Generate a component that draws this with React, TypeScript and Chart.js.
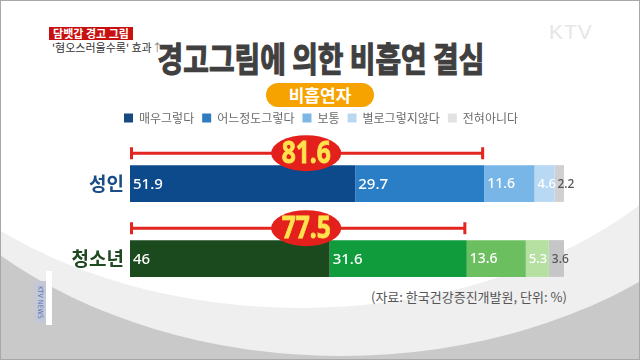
import React, { useEffect, useRef } from 'react';
import { Chart, registerables } from 'chart.js';

Chart.register(...registerables);

const CATEGORIES = ['성인', '청소년'];
const SERIES_NAMES = ['매우그렇다', '어느정도그렇다', '보통', '별로그렇지않다', '전혀아니다'];
const ADULT_VALUES = [51.9, 29.7, 11.6, 4.6, 2.2];
const YOUTH_VALUES = [46, 31.6, 13.6, 5.3, 3.6];
const TOTALS = [81.6, 77.5];
const BADGE_POSITION = 40.6;

const ADULT_COLORS = ['#0D4A8B', '#2A7EC6', '#78B6E8', '#B8D8F3', '#D0D0D2'];
const YOUTH_COLORS = ['#1B4A1F', '#109B3C', '#6CBF5E', '#B5E0A2', '#C6C6C8'];
const LEGEND_COLORS = ['#174A80', '#2F7BC0', '#7DB7E6', '#BBD8F0', '#E2E2E2'];
const LABEL_COLORS = ['#ffffff', '#ffffff', '#ffffff', '#ffffff', '#555555'];
const LABEL_SIZES = [15, 15, 14, 13, 12];
const CATEGORY_COLORS = ['#1A4C86', '#1F4A22'];

const KR = "'Noto Sans CJK KR', 'Noto Sans', sans-serif";

const overlayPlugin = {
  id: 'overlay',
  afterDatasetsDraw(chart: any) {
    const ctx = chart.ctx;
    const xs = chart.scales.x;
    ctx.save();
    chart.data.datasets.forEach((ds: any, i: number) => {
      const meta = chart.getDatasetMeta(i);
      meta.data.forEach((bar: any, j: number) => {
        const p = bar.getProps(['x', 'y', 'base', 'height'], true);
        const left = Math.min(p.x, p.base);
        ctx.font = `500 ${LABEL_SIZES[i]}px 'Noto Sans', sans-serif`;
        ctx.fillStyle = LABEL_COLORS[i];
        ctx.textAlign = 'left';
        ctx.textBaseline = 'middle';
        ctx.fillText(String(ds.data[j]), left + 3, p.y + 1);
      });
    });
    const meta0 = chart.getDatasetMeta(0);
    meta0.data.forEach((bar: any, j: number) => {
      const p = bar.getProps(['y', 'height'], true);
      const y = p.y - p.height / 2 - 12;
      const x0 = xs.getPixelForValue(0);
      const x1 = xs.getPixelForValue(TOTALS[j]);
      ctx.strokeStyle = '#E3261F';
      ctx.lineWidth = 3;
      ctx.beginPath();
      ctx.moveTo(x0, y);
      ctx.lineTo(x1, y);
      ctx.moveTo(x0 + 1.5, y - 6);
      ctx.lineTo(x0 + 1.5, y + 6);
      ctx.moveTo(x1 - 1.5, y - 6);
      ctx.lineTo(x1 - 1.5, y + 6);
      ctx.stroke();
      const cx = xs.getPixelForValue(BADGE_POSITION);
      ctx.fillStyle = '#E3201B';
      ctx.beginPath();
      ctx.ellipse(cx, y, 35, 18, 0, 0, Math.PI * 2);
      ctx.fill();
      ctx.save();
      ctx.translate(cx, y);
      ctx.scale(0.82, 1);
      ctx.font = "bold 30px 'Noto Sans', sans-serif";
      ctx.fillStyle = '#FFE34D';
      ctx.strokeStyle = '#FFE34D';
      ctx.lineWidth = 0.8;
      ctx.textAlign = 'center';
      ctx.textBaseline = 'middle';
      ctx.fillText(TOTALS[j].toFixed(1), 0, 1);
      ctx.strokeText(TOTALS[j].toFixed(1), 0, 1);
      ctx.restore();
    });
    ctx.restore();
  },
};

export default function App() {
  const canvasRef = useRef<HTMLCanvasElement>(null);

  useEffect(() => {
    if (!canvasRef.current) return;
    const datasets = SERIES_NAMES.map((name, i) => ({
      label: name,
      data: [ADULT_VALUES[i], YOUTH_VALUES[i]],
      backgroundColor: [ADULT_COLORS[i], YOUTH_COLORS[i]],
      borderWidth: 0,
      barPercentage: 1,
      categoryPercentage: 0.49,
    }));
    const chart = new Chart(canvasRef.current, {
      type: 'bar',
      data: { labels: CATEGORIES, datasets },
      plugins: [overlayPlugin],
      options: {
        indexAxis: 'y',
        animation: false,
        responsive: false,
        maintainAspectRatio: false,
        layout: { padding: { top: 103, bottom: 65, left: 0, right: 0 } },
        scales: {
          x: {
            stacked: true,
            min: 0,
            max: 100,
            position: 'top',
            grid: { display: false, drawTicks: false },
            border: { display: false },
            ticks: { display: false },
            afterFit: (s: any) => { s.height = 12; },
          },
          y: {
            stacked: true,
            position: 'left',
            grid: { display: false, drawTicks: false },
            border: { display: false },
            ticks: {
              padding: 6,
              color: (c: any) => CATEGORY_COLORS[c.index] || '#333',
              font: { size: 19, weight: 'bold', family: KR },
            },
            afterFit: (s: any) => { s.width = 129; },
          },
          y2: {
            axis: 'y',
            type: 'linear',
            position: 'right',
            display: true,
            grid: { display: false, drawTicks: false },
            border: { display: false },
            ticks: { display: false },
            afterFit: (s: any) => { s.width = 77; },
          },
        },
        plugins: {
          title: { display: false },
          tooltip: { enabled: false },
          legend: {
            display: true,
            position: 'top',
            labels: {
              boxWidth: 9,
              boxHeight: 9,
              padding: 8,
              color: '#6b6b6b',
              font: { size: 12, family: KR },
              generateLabels: () =>
                SERIES_NAMES.map((t, i) => ({
                  text: t,
                  fillStyle: LEGEND_COLORS[i],
                  strokeStyle: LEGEND_COLORS[i],
                  lineWidth: 0,
                  hidden: false,
                  datasetIndex: i,
                  fontColor: '#6b6b6b',
                })),
            },
          },
        },
      } as any,
    });
    return () => chart.destroy();
  }, []);

  return (
    <div
      style={{
        position: 'absolute',
        left: 0,
        top: 0,
        width: 640,
        height: 360,
        overflow: 'hidden',
        background: '#C9C9C9',
        boxSizing: 'border-box',
        border: '1px solid #A8A8A8',
        fontFamily: KR,
      }}
    >
      <div style={{ position: 'absolute', left: 340 - 488, top: -355, width: 976, height: 710, borderRadius: '50%', background: '#EFEFEF' }} />
      <div style={{ position: 'absolute', left: 300 - 453, top: -307, width: 906, height: 614, borderRadius: '50%', background: '#FFFFFF' }} />
      <div style={{ position: 'absolute', left: 48, top: 26, width: 84, height: 13, background: '#C8100F', color: '#fff', fontSize: 11, lineHeight: '13px', textAlign: 'center', fontWeight: 'bold' }}>담뱃갑 경고 그림</div>
      <div style={{ position: 'absolute', left: 51, top: 40, fontSize: 11, lineHeight: '13px', color: '#333', whiteSpace: 'nowrap' }}>'혐오스러울수록' 효과<span style={{ color: '#888' }}>↑</span></div>
      <div style={{ position: 'absolute', left: 548, top: 19, fontSize: 21, fontFamily: "'Liberation Sans', sans-serif", color: '#E6E6E6', letterSpacing: 1 }}>KTV</div>
      <div style={{ position: 'absolute', left: 0, top: 38, width: 640, textAlign: 'center', fontSize: 34, lineHeight: '38px', fontWeight: 'bold', color: '#404040', WebkitTextStroke: '1.2px #404040', transform: 'scaleX(0.82)', whiteSpace: 'nowrap' } as any}>경고그림에 의한 비흡연 결심</div>
      <div style={{ position: 'absolute', left: 265, top: 82, width: 108, height: 24, borderRadius: 12, background: '#F6A300', color: '#fff', fontSize: 17, lineHeight: '24px', fontWeight: 'bold', textAlign: 'center' }}>비흡연자</div>
      <div style={{ position: 'absolute', left: 370, top: 288, fontSize: 13, lineHeight: '16px', color: '#555', whiteSpace: 'nowrap' }}>(자료: 한국건강증진개발원, 단위: %)</div>
      <div style={{ position: 'absolute', left: 45, top: 270, width: 6, height: 54, background: '#FFFFFF' }} />
      <div style={{ position: 'absolute', left: 33, top: 280, width: 12, height: 42, background: '#C4C8D4', color: '#5a72c0', fontSize: 7, lineHeight: '12px', writingMode: 'vertical-rl', textAlign: 'center', fontFamily: "'DejaVu Sans Condensed', sans-serif" }}>KTV NEWS</div>
      <canvas ref={canvasRef} width={640} height={360} style={{ position: 'absolute', left: 0, top: 0, width: 640, height: 360 }} />
    </div>
  );
}
